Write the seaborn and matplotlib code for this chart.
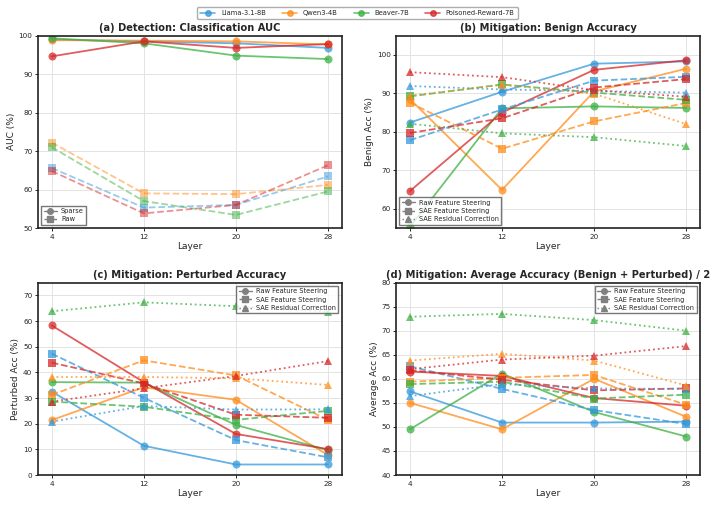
import numpy as np
import pandas as pd
import seaborn as sns
import matplotlib.pyplot as plt
from matplotlib.lines import Line2D

sns.set_style("whitegrid")
plt.rcParams['font.family'] = ['DejaVu Sans']

layers = [4, 12, 20, 28]
models = ["Llama-3.1-8B", "Qwen3-4B", "Beaver-7B", "Poisoned-Reward-7B"]
colors = ["#3498db", "#ff8c1a", "#3cb043", "#d62728"]

# (a) AUC
auc_sparse = {
    "Llama-3.1-8B": [99.0, 98.5, 98.0, 96.8],
    "Qwen3-4B": [98.8, 98.7, 98.5, 97.7],
    "Beaver-7B": [99.3, 98.0, 94.8, 93.9],
    "Poisoned-Reward-7B": [94.6, 98.5, 96.8, 97.8],
}
auc_raw = {
    "Llama-3.1-8B": [65.6, 55.3, 56.0, 63.4],
    "Qwen3-4B": [72.2, 59.0, 58.8, 61.2],
    "Beaver-7B": [71.0, 57.0, 53.4, 59.5],
    "Poisoned-Reward-7B": [64.8, 53.8, 56.0, 66.3],
}

# (b) benign accuracy
benign_raw = {
    "Llama-3.1-8B": [82.4, 90.4, 97.7, 98.3],
    "Qwen3-4B": [88.5, 64.9, 90.5, 96.4],
    "Beaver-7B": [55.3, 86.1, 86.6, 86.2],
    "Poisoned-Reward-7B": [64.6, 85.0, 96.1, 98.6],
}
benign_sae = {
    "Llama-3.1-8B": [77.8, 85.8, 93.3, 94.3],
    "Qwen3-4B": [87.6, 75.6, 82.7, 87.5],
    "Beaver-7B": [89.2, 92.3, 90.2, 88.3],
    "Poisoned-Reward-7B": [79.7, 83.5, 91.5, 93.7],
}
benign_res = {
    "Llama-3.1-8B": [91.9, 91.0, 90.6, 90.2],
    "Qwen3-4B": [89.4, 92.2, 89.9, 82.0],
    "Beaver-7B": [82.1, 79.6, 78.6, 76.3],
    "Poisoned-Reward-7B": [95.5, 94.2, 90.8, 89.1],
}

# (c) perturbed accuracy
pert_raw = {
    "Llama-3.1-8B": [32.5, 11.4, 4.1, 4.1],
    "Qwen3-4B": [21.4, 34.2, 29.3, 7.8],
    "Beaver-7B": [36.2, 36.0, 19.5, 9.7],
    "Poisoned-Reward-7B": [58.3, 36.2, 16.0, 10.1],
}
pert_sae = {
    "Llama-3.1-8B": [47.3, 30.1, 13.6, 6.9],
    "Qwen3-4B": [31.2, 44.7, 38.8, 21.5],
    "Beaver-7B": [28.6, 26.6, 21.5, 25.0],
    "Poisoned-Reward-7B": [43.8, 35.7, 23.5, 22.3],
}
pert_res = {
    "Llama-3.1-8B": [20.8, 26.9, 25.5, 25.6],
    "Qwen3-4B": [38.2, 38.2, 37.7, 35.1],
    "Beaver-7B": [63.8, 67.3, 65.8, 63.7],
    "Poisoned-Reward-7B": [28.6, 33.8, 38.6, 44.4],
}

# (d) average accuracy
avg_raw = {
    "Llama-3.1-8B": [57.4, 50.9, 50.9, 51.1],
    "Qwen3-4B": [55.0, 49.5, 60.0, 52.1],
    "Beaver-7B": [49.5, 61.1, 53.1, 48.0],
    "Poisoned-Reward-7B": [61.5, 60.6, 56.0, 54.4],
}
avg_sae = {
    "Llama-3.1-8B": [62.6, 57.9, 53.5, 50.6],
    "Qwen3-4B": [59.4, 60.2, 60.8, 54.6],
    "Beaver-7B": [58.9, 59.4, 55.9, 56.7],
    "Poisoned-Reward-7B": [61.8, 59.8, 57.6, 58.0],
}
avg_res = {
    "Llama-3.1-8B": [56.4, 58.9, 58.0, 57.9],
    "Qwen3-4B": [63.8, 65.2, 63.8, 58.6],
    "Beaver-7B": [72.9, 73.5, 72.2, 70.0],
    "Poisoned-Reward-7B": [62.0, 64.0, 64.8, 66.8],
}


def draw(ax, data, ls, marker, alpha):
    for m, c in zip(models, colors):
        df = pd.DataFrame({"Layer": layers, "v": data[m]})
        sns.lineplot(data=df, x="Layer", y="v", ax=ax, color=c, linestyle=ls,
                     marker=marker, markersize=5.8, markeredgewidth=0,
                     linewidth=1.3, alpha=alpha, legend=False)


def style_ax(ax, title, ylabel, ylim):
    ax.set_title(title, fontsize=7.1, fontweight="bold", pad=3)
    ax.set_xlabel("Layer", fontsize=6.5, labelpad=2)
    ax.set_ylabel(ylabel, fontsize=6.5, labelpad=2)
    ax.set_xticks(layers)
    ax.set_ylim(*ylim)
    ax.tick_params(labelsize=5.2, length=2.5, width=0.7, pad=1.5, bottom=True, left=True)
    ax.grid(True, color="#e3e3e3", linewidth=0.7)
    for s in ax.spines.values():
        s.set_color("#222222")
        s.set_linewidth(1.2)


def method_legend(ax, loc):
    handles = [
        Line2D([], [], color="gray", ls="-", marker="o", ms=4, lw=1.0, label="Raw Feature Steering"),
        Line2D([], [], color="gray", ls="--", marker="s", ms=4, lw=1.0, label="SAE Feature Steering"),
        Line2D([], [], color="gray", ls=":", marker="^", ms=4, lw=1.0, label="SAE Residual Correction"),
    ]
    ax.legend(handles=handles, loc=loc, fontsize=4.8, frameon=True, edgecolor="#555555",
              fancybox=False, handlelength=2, borderpad=0.35, labelspacing=0.35,
              handletextpad=0.6)


fig = plt.figure(figsize=(7.15, 5.05), dpi=100)
ax_a = fig.add_axes([0.053, 0.5485, 0.425, 0.381])
ax_b = fig.add_axes([0.554, 0.5485, 0.425, 0.381])
ax_c = fig.add_axes([0.053, 0.0594, 0.425, 0.381])
ax_d = fig.add_axes([0.554, 0.0594, 0.425, 0.381])

# (a)
draw(ax_a, auc_sparse, "-", "o", 0.75)
draw(ax_a, auc_raw, "--", "s", 0.5)
style_ax(ax_a, "(a) Detection: Classification AUC", "AUC (%)", (50, 100))
ax_a.legend(handles=[
    Line2D([], [], color="gray", ls="-", marker="o", ms=4, lw=1.0, label="Sparse"),
    Line2D([], [], color="gray", ls="--", marker="s", ms=4, lw=1.0, label="Raw"),
], loc="lower left", fontsize=4.8, frameon=True, edgecolor="#555555", fancybox=False,
    handlelength=2, borderpad=0.35, labelspacing=0.35, handletextpad=0.6)

# (b)
draw(ax_b, benign_raw, "-", "o", 0.75)
draw(ax_b, benign_sae, "--", "s", 0.75)
draw(ax_b, benign_res, ":", "^", 0.75)
style_ax(ax_b, "(b) Mitigation: Benign Accuracy", "Benign Acc (%)", (55, 105))
method_legend(ax_b, "lower left")

# (c)
draw(ax_c, pert_raw, "-", "o", 0.75)
draw(ax_c, pert_sae, "--", "s", 0.75)
draw(ax_c, pert_res, ":", "^", 0.75)
style_ax(ax_c, "(c) Mitigation: Perturbed Accuracy", "Perturbed Acc (%)", (0, 75))
method_legend(ax_c, "upper right")

# (d)
draw(ax_d, avg_raw, "-", "o", 0.75)
draw(ax_d, avg_sae, "--", "s", 0.75)
draw(ax_d, avg_res, ":", "^", 0.75)
style_ax(ax_d, "(d) Mitigation: Average Accuracy (Benign + Perturbed) / 2",
         "Average Acc (%)", (40, 80))
method_legend(ax_d, "upper right")

model_handles = [Line2D([], [], color=c, marker="o", ms=4, lw=1.2, alpha=0.75, label=m)
                 for m, c in zip(models, colors)]
fig.legend(handles=model_handles, loc="upper center", bbox_to_anchor=(0.5, 0.993), ncol=4,
           fontsize=4.9, frameon=True, edgecolor="#999999", fancybox=True,
           handlelength=2.2, columnspacing=2.4, borderpad=0.45)

fig.savefig("out.png", dpi=100)
